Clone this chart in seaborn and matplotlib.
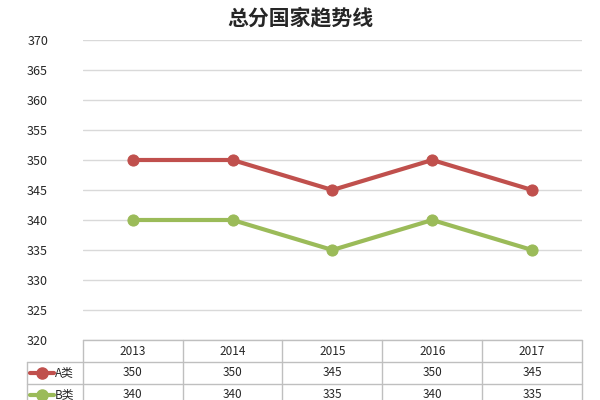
import matplotlib
matplotlib.use("Agg")
import matplotlib.pyplot as plt
import seaborn as sns
import pandas as pd

years = ["2013", "2014", "2015", "2016", "2017"]
a_vals = [350, 350, 345, 350, 345]
b_vals = [340, 340, 335, 340, 335]
series_names = ["A类", "B类"]
colors = ["#C0504D", "#9BBB59"]

sns.set_style("white")
plt.rcParams['font.family'] = ['Noto Sans CJK SC', 'DejaVu Sans']

df = pd.DataFrame({"year": years * 2, "value": a_vals + b_vals,
                   "series": [series_names[0]] * 5 + [series_names[1]] * 5})

fig = plt.figure(figsize=(6, 4), dpi=100)
ax = fig.add_axes([0.138, 0.15, 0.832, 0.75])
for name, c in zip(series_names, colors):
    d = df[df.series == name]
    sns.lineplot(data=d, x="year", y="value", ax=ax, color=c, lw=3,
                 marker="o", markersize=8, markeredgecolor=c, sort=False)
ax.set_ylim(320, 370)
ax.set_yticks(range(320, 371, 5))
ax.set_xlim(-0.5, 4.5)
ax.grid(axis="y", color="#D9D9D9", lw=1)
ax.set_xticks([])
ax.set_xlabel("")
ax.set_ylabel("")
for s in ax.spines.values():
    s.set_visible(False)
ax.tick_params(axis="y", labelsize=9, length=0, pad=25)
fig.text(0.5, 0.955, "总分国家趋势线", ha="center", va="center", fontsize=15, fontweight="bold")

# data table
rh = 22 / 300 * 50  # row height in data units
tbl_y = [320, 320 - rh, 320 - 2 * rh, 320 - 3 * rh]
lc = "#BFBFBF"
for i in range(6):
    x = i - 0.5
    ax.plot([x, x], [tbl_y[0], tbl_y[3]], color=lc, lw=1, clip_on=False)
ax.plot([-0.5, 4.5], [tbl_y[0]] * 2, color=lc, lw=1, clip_on=False)
left = -0.5 - 56 / 99.8
for y in tbl_y[1:]:
    ax.plot([left, 4.5], [y, y], color=lc, lw=1, clip_on=False)
ax.plot([left, left], [tbl_y[1], tbl_y[3]], color=lc, lw=1, clip_on=False)
for i, yv in enumerate(years):
    ax.text(i, (tbl_y[0] + tbl_y[1]) / 2, yv, ha="center", va="center", fontsize=8.5, clip_on=False)
for r, (vals, name, c) in enumerate(zip([a_vals, b_vals], series_names, colors)):
    yc = (tbl_y[r + 1] + tbl_y[r + 2]) / 2
    for i, v in enumerate(vals):
        ax.text(i, yc, str(v), ha="center", va="center", fontsize=8.5, clip_on=False)
    ax.plot([left + 0.03, left + 0.27], [yc, yc], color=c, lw=3, clip_on=False)
    ax.plot([left + 0.15], [yc], "o", color=c, markersize=8, clip_on=False)
    ax.text(left + 0.28, yc, name, ha="left", va="center", fontsize=8.5, clip_on=False)

fig.savefig("out.png", dpi=100)
